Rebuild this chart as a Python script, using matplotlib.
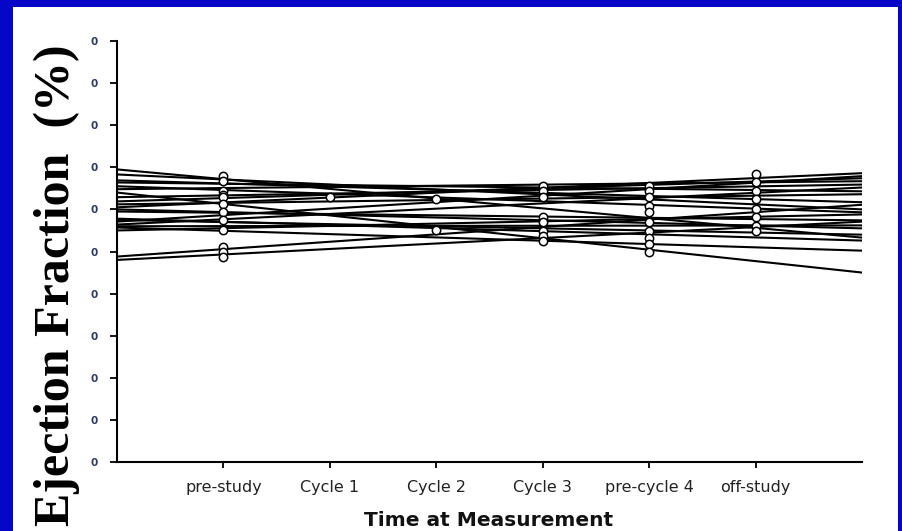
import numpy as np
import matplotlib.pyplot as plt
import matplotlib.patches as patches

# time points on the x axis
time_labels = ['pre-study', 'Cycle 1', 'Cycle 2', 'Cycle 3', 'pre-cycle 4', 'off-study']
time_pos = [1, 2, 3, 4, 5, 6]

# per-patient regression lines: EF at x=0 and at x=7 (axis edges)
fit_start = [69.5, 68.3, 66.9, 66.4, 65.5, 64.8, 64.0, 62.9, 61.9, 61.2, 60.5,
             59.5, 57.1, 56.4, 55.7, 57.5, 56.0, 48.8, 48.0, 57.8, 55.0, 60.0]
fit_end = [53.3, 60.0, 61.7, 64.3, 59.3, 66.7, 45.0, 65.9, 67.4, 63.6, 68.6,
           57.4, 67.9, 65.2, 50.2, 54.0, 56.2, 61.1, 57.1, 52.6, 58.8, 55.5]
fit_x = [0, 7]

# observed EF values at each time point
ef_prestudy = [67.9, 66.7, 64.3, 63.5, 62.9, 61.2, 59.3, 57.6, 55.2, 51.0, 49.8, 48.6]
ef_cycle1 = [62.9]
ef_cycle2 = [62.4, 55.0]
ef_cycle3 = [65.5, 64.3, 62.9, 58.3, 57.1, 54.8, 53.6, 52.4]
ef_precycle4 = [65.5, 64.3, 62.9, 60.7, 59.5, 56.9, 54.8, 53.3, 51.7, 50.0]
ef_offstudy = [68.3, 66.4, 64.3, 62.4, 60.0, 58.1, 56.0, 54.8]
ef_points = [ef_prestudy, ef_cycle1, ef_cycle2, ef_cycle3, ef_precycle4, ef_offstudy]

yticks = list(range(0, 101, 10))
ytick_labels = ['0'] * len(yticks)

fig = plt.figure(figsize=(9.03, 5.31), dpi=100, facecolor='#0606c8')
# white slide panel inside blue border
fig.patches.append(patches.Rectangle((13 / 903, 0), (898 - 13) / 903, (531 - 7) / 531,
                                     transform=fig.transFigure, facecolor='white',
                                     edgecolor='none', zorder=-10))

ax = fig.add_axes([117 / 903, 1 - 462 / 531, (862 - 117) / 903, (462 - 41) / 531])
ax.set_facecolor('none')
ax.set_zorder(5)

for s, e in zip(fit_start, fit_end):
    ax.plot(fit_x, [s, e], color='black', lw=1.5, zorder=2)

for xp, vals in zip(time_pos, ef_points):
    ax.plot([xp] * len(vals), vals, linestyle='none', marker='o', markersize=6,
            markerfacecolor='white', markeredgecolor='black', markeredgewidth=1.1, zorder=3)

ax.set_xlim(0, 7)
ax.set_ylim(0, 100)
ax.set_xticks(time_pos)
ax.set_xticklabels(time_labels, fontsize=11.5, color='#222222', family='DejaVu Sans')
ax.set_yticks(yticks)
ax.set_yticklabels(ytick_labels, fontsize=7.5, color='#2a3a6a', fontweight='bold')
ax.tick_params(axis='x', direction='out', length=4, width=1.3, pad=9)
ax.tick_params(axis='y', direction='out', length=5, width=1.3, pad=8.5)
for side in ['top', 'right']:
    ax.spines[side].set_visible(False)
for side in ['left', 'bottom']:
    ax.spines[side].set_linewidth(1.5)

fig.text(489 / 903, 1 - 521 / 531, 'Time at Measurement', ha='center', va='center',
         fontsize=14.5, fontweight='bold', color='#111111', family='DejaVu Sans')
fig.text(57 / 903, 1 - 285 / 531, 'Ejection Fraction  (%)', rotation=90, ha='center',
         va='center', fontsize=36, fontweight='bold', family='Liberation Serif', color='black')

fig.savefig('out.png', dpi=100, facecolor=fig.get_facecolor())
